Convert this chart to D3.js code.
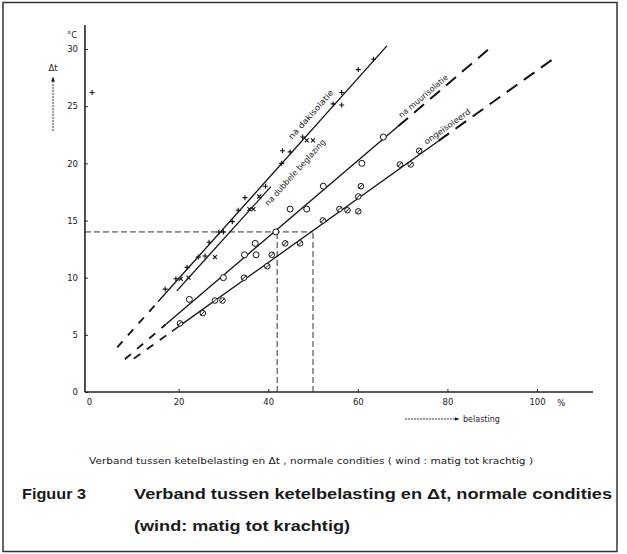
<!DOCTYPE html>
<html>
<head>
<meta charset="utf-8">
<script src="https://cdn.jsdelivr.net/npm/d3@7"></script>
<style>
  body { margin: 0; background: #fff; }
  text { fill: #1a1a1a; }
</style>
</head>
<body>
<svg id="chart" width="627" height="554"></svg>
<script>
// --- data (belasting in %, delta t in graden C) ---
const lineNames = ["na dakisolatie", "na dubbele beglazing", "na muurisolatie", "ongeïsoleerd"];
const fitSlope = [0.438, 0.434, 0.334, 0.280];
const fitIntercept = [1.15, 0.34, 0.19, 0.12];
const fitStart = [6.3, 19.6, 8.0, 10.0];    // dashed start
const solidFrom = [15.4, 19.6, 17.1, 18.5];
const solidTo = [66.5, 40.6, 69.0, 78.0];
const fitEnd = [66.5, 40.6, 89.5, 103.8];   // dashed end

const ptsDak = [[0.7, 26.2], [17.0, 9.0], [19.4, 9.9], [21.9, 10.9], [24.4, 11.8], [25.9, 11.9],
  [26.8, 13.1], [29.0, 14.0], [30.0, 14.0], [32.0, 14.9], [33.3, 15.9], [34.8, 17.0],
  [39.4, 18.0], [43.0, 20.0], [43.2, 21.1], [44.9, 21.0], [47.7, 22.3], [54.5, 25.2],
  [56.4, 25.1], [56.4, 26.2], [60.1, 28.2], [63.5, 29.1]];
const ptsBeglazing = [[20.5, 9.9], [22.2, 10.0], [28.1, 11.8], [35.8, 16.0], [36.7, 16.0],
  [38.0, 17.1], [48.6, 22.0], [50.0, 22.0]];
const ptsMuur = [[22.4, 8.1], [30.0, 10.0], [34.7, 12.0], [37.3, 12.0], [37.1, 13.0], [41.7, 14.0],
  [44.9, 16.0], [48.6, 16.0], [52.3, 18.0], [60.9, 20.0], [65.7, 22.3]];
const ptsOnge = [[20.3, 6.0], [25.4, 6.9], [28.1, 8.0], [29.8, 8.0], [34.6, 10.0], [39.8, 11.0],
  [40.8, 12.0], [43.8, 13.0], [47.1, 13.0], [52.2, 15.0], [55.9, 16.0], [57.7, 15.9],
  [60.1, 15.8], [60.1, 17.1], [60.7, 18.0], [69.4, 19.9], [71.8, 19.9], [73.7, 21.1]];

const xTicks = [0, 20, 40, 60, 80, 100];
const yTicks = [0, 5, 10, 15, 20, 25, 30];
const refY = 14;
const refX = [42, 50];

// label anchors along the lines
const labelAt = [[44.9, 22.2], [39.6, 16.4], [69.4, 24.1], [75.0, 21.8]];
const labelLen = [63, 86, 62, 55];

const svg = d3.select("#chart");

const x = d3.scaleLinear().domain([0, 100]).range([89, 537]);
const y = d3.scaleLinear().domain([0, 30]).range([392, 49]);

// frame
svg.append("rect")
  .attr("x", 3).attr("y", 2.5).attr("width", 614).attr("height", 549)
  .attr("fill", "none").attr("stroke", "#333").attr("stroke-width", 1.5);

// axes
const axisX0 = x(-0.9);
svg.append("line")
  .attr("x1", axisX0).attr("x2", axisX0)
  .attr("y1", y(0)).attr("y2", y(32.1))
  .attr("stroke", "#222").attr("stroke-width", 1.6);
svg.append("line")
  .attr("x1", axisX0).attr("x2", x(112.5))
  .attr("y1", y(0)).attr("y2", y(0))
  .attr("stroke", "#222").attr("stroke-width", 1.4);

const gy = svg.append("g")
  .attr("transform", `translate(${axisX0},0)`)
  .call(d3.axisLeft(y).tickValues(yTicks).tickSize(-3).tickPadding(7));
const gx = svg.append("g")
  .attr("transform", `translate(0,${y(0)})`)
  .call(d3.axisBottom(x).tickValues(xTicks).tickSize(-3).tickPadding(7));
[gx, gy].forEach(g => {
  g.select(".domain").remove();
  g.selectAll("line").attr("stroke", "#222");
  g.selectAll("text").attr("font-family", "DejaVu Sans").attr("font-size", 8.5).attr("fill", "#222");
});
gx.selectAll(".tick").filter(d => d === 0).select("line").remove();

svg.append("text").attr("x", x(104.5)).attr("y", y(0) + 14)
  .attr("font-family", "DejaVu Sans").attr("font-size", 8.5).text("%");
svg.append("text").attr("x", 67).attr("y", 38)
  .attr("font-family", "DejaVu Sans").attr("font-size", 8.5).text("°C");

// axis titles with arrows
svg.append("defs").append("marker")
  .attr("id", "arr").attr("viewBox", "0 0 10 10").attr("refX", 9).attr("refY", 5)
  .attr("markerWidth", 5).attr("markerHeight", 5).attr("orient", "auto")
  .append("path").attr("d", "M0,1L10,5L0,9z").attr("fill", "#222");

svg.append("line").attr("x1", 53).attr("x2", 53).attr("y1", 131).attr("y2", 77)
  .attr("stroke", "#333").attr("stroke-width", 1).attr("stroke-dasharray", "2,1")
  .attr("marker-end", "url(#arr)");
svg.append("text").attr("x", 53).attr("y", 71).attr("text-anchor", "middle")
  .attr("font-family", "DejaVu Sans").attr("font-size", 8.5).text("Δt");

svg.append("line").attr("x1", 405).attr("x2", 459).attr("y1", 419).attr("y2", 419)
  .attr("stroke", "#333").attr("stroke-width", 1).attr("stroke-dasharray", "2,1")
  .attr("marker-end", "url(#arr)");
svg.append("text").attr("x", 463).attr("y", 422)
  .attr("font-family", "DejaVu Sans").attr("font-size", 8).text("belasting");

// reference lines
svg.append("line")
  .attr("x1", axisX0).attr("x2", x(refX[1])).attr("y1", y(refY)).attr("y2", y(refY))
  .attr("stroke", "#333").attr("stroke-width", 1).attr("stroke-dasharray", "6,3");
svg.selectAll(".ref").data(refX).join("line")
  .attr("x1", d => x(d)).attr("x2", d => x(d)).attr("y1", y(0)).attr("y2", y(refY))
  .attr("stroke", "#333").attr("stroke-width", 1).attr("stroke-dasharray", "6,3");

// fitted lines
const line = d3.line().x(d => x(d[0])).y(d => y(d[1]));
const fit = (i, a, b) => [[a, fitIntercept[i] + fitSlope[i] * a], [b, fitIntercept[i] + fitSlope[i] * b]];

lineNames.forEach((name, i) => {
  if (solidFrom[i] > fitStart[i]) {
    svg.append("path").attr("d", line(fit(i, fitStart[i], solidFrom[i])))
      .attr("stroke", "#111").attr("stroke-width", 1.8).attr("fill", "none")
      .attr("stroke-dasharray", "8,8");
  }
  svg.append("path").attr("d", line(fit(i, solidFrom[i], solidTo[i])))
    .attr("stroke", "#111").attr("stroke-width", 1.3).attr("fill", "none");
  if (fitEnd[i] > solidTo[i]) {
    svg.append("path").attr("d", line(fit(i, solidTo[i], fitEnd[i])))
      .attr("stroke", "#111").attr("stroke-width", 2).attr("fill", "none")
      .attr("stroke-dasharray", "13,8");
  }
  const pxSlope = (y(0) - y(fitSlope[i])) / (x(1) - x(0));
  const ang = -Math.atan(pxSlope) * 180 / Math.PI;
  const lx = x(labelAt[i][0]), ly = y(labelAt[i][1]);
  svg.append("text")
    .attr("transform", `translate(${lx},${ly}) rotate(${ang})`)
    .attr("dominant-baseline", "central")
    .attr("font-family", "DejaVu Sans").attr("font-size", 8)
    .attr("textLength", labelLen[i]).attr("lengthAdjust", "spacingAndGlyphs")
    .text(name);
});

// markers
svg.selectAll(".dak").data(ptsDak).join("path")
  .attr("d", d => `M${x(d[0]) - 2.5},${y(d[1])}h5M${x(d[0])},${y(d[1]) - 2.5}v5`)
  .attr("stroke", "#111").attr("stroke-width", 1.1);
svg.selectAll(".begl").data(ptsBeglazing).join("path")
  .attr("d", d => `M${x(d[0]) - 2},${y(d[1]) - 2}l4,4M${x(d[0]) + 2},${y(d[1]) - 2}l-4,4`)
  .attr("stroke", "#111").attr("stroke-width", 1.1);
svg.selectAll(".muur").data(ptsMuur).join("circle")
  .attr("cx", d => x(d[0])).attr("cy", d => y(d[1])).attr("r", 3)
  .attr("fill", "#fff").attr("stroke", "#111").attr("stroke-width", 1);
const onge = svg.selectAll(".onge").data(ptsOnge).join("g")
  .attr("transform", d => `translate(${x(d[0])},${y(d[1])})`);
onge.append("circle").attr("r", 2.8).attr("fill", "#fff").attr("stroke", "#111").attr("stroke-width", 1);
onge.append("path").attr("d", "M-2,2L2,-2").attr("stroke", "#111").attr("stroke-width", 1);

// captions
svg.append("text").attr("x", 89).attr("y", 464)
  .attr("font-family", "DejaVu Sans").attr("font-size", 8.5)
  .attr("textLength", 444).attr("lengthAdjust", "spacingAndGlyphs")
  .text("Verband tussen ketelbelasting en Δt , normale condities ( wind : matig tot krachtig )");
svg.append("text").attr("x", 22).attr("y", 499)
  .attr("font-family", "Liberation Sans").attr("font-weight", "bold").attr("font-size", 15)
  .attr("textLength", 64).attr("lengthAdjust", "spacingAndGlyphs")
  .text("Figuur 3");
svg.append("text").attr("x", 134).attr("y", 499)
  .attr("font-family", "Liberation Sans").attr("font-weight", "bold").attr("font-size", 15)
  .attr("textLength", 478).attr("lengthAdjust", "spacingAndGlyphs")
  .text("Verband tussen ketelbelasting en Δt, normale condities");
svg.append("text").attr("x", 134).attr("y", 531)
  .attr("font-family", "Liberation Sans").attr("font-weight", "bold").attr("font-size", 15)
  .attr("textLength", 216).attr("lengthAdjust", "spacingAndGlyphs")
  .text("(wind: matig tot krachtig)");
</script>
</body>
</html>
